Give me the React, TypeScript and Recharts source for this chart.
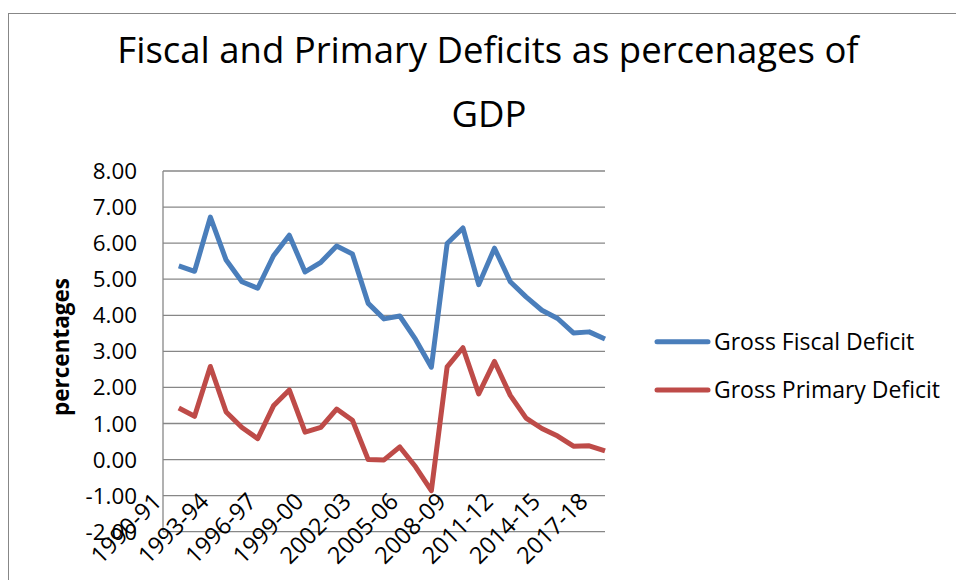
import { ComposedChart, Line, XAxis, YAxis, CartesianGrid } from 'recharts';

const years = [
  '1990-91', '1991-92', '1992-93', '1993-94', '1994-95', '1995-96', '1996-97', '1997-98',
  '1998-99', '1999-00', '2000-01', '2001-02', '2002-03', '2003-04', '2004-05', '2005-06',
  '2006-07', '2007-08', '2008-09', '2009-10', '2010-11', '2011-12', '2012-13', '2013-14',
  '2014-15', '2015-16', '2016-17', '2017-18', '2018-19',
];

const grossFiscalDeficit: (number | null)[] = [
  null, 5.37, 5.22, 6.72, 5.53, 4.93, 4.75, 5.65, 6.22, 5.2, 5.47, 5.92, 5.7, 4.33, 3.9,
  3.98, 3.33, 2.56, 5.99, 6.42, 4.85, 5.86, 4.93, 4.51, 4.14, 3.91, 3.51, 3.54, 3.34,
];

const grossPrimaryDeficit: (number | null)[] = [
  null, 1.43, 1.2, 2.58, 1.32, 0.89, 0.58, 1.49, 1.93, 0.76, 0.89, 1.4, 1.09, 0.0, -0.01,
  0.35, -0.2, -0.86, 2.57, 3.1, 1.82, 2.72, 1.78, 1.15, 0.86, 0.65, 0.37, 0.38, 0.24,
];

const yTicks = [-2, -1, 0, 1, 2, 3, 4, 5, 6, 7, 8];

const titleLines = ['Fiscal and Primary Deficits as percenages of', 'GDP'];
const yLabel = 'percentages';
const series = [
  { key: 'fiscal', name: 'Gross Fiscal Deficit', color: '#4A7EBB' },
  { key: 'primary', name: 'Gross Primary Deficit', color: '#BE4B48' },
];

const FONT = '"Open Sans", "Noto Sans", sans-serif';
const GRID = '#878787';

const data = years.map((year, i) => ({
  year,
  fiscal: grossFiscalDeficit[i],
  primary: grossPrimaryDeficit[i],
}));

function YTick({ y, payload }: any) {
  return (
    <text x={137} y={y} dy="0.36em" textAnchor="end" fontSize={22.4} fontFamily={FONT} fill="#000">
      {Number(payload.value).toFixed(2)}
    </text>
  );
}

function XTick({ x, payload }: any) {
  return (
    <text
      transform={`translate(${x},503) rotate(-45)`}
      textAnchor="end"
      fontSize={23.5}
      fontFamily={FONT}
      fill="#000"
    >
      {payload.value}
    </text>
  );
}

export default function App() {
  return (
    <div style={{ position: 'fixed', left: 0, top: 0, width: 956, height: 580, overflow: 'hidden', background: '#fff' }}>
      <div
        style={{
          position: 'absolute',
          left: 8,
          top: 13,
          width: 1100,
          height: 1000,
          border: `1.5px solid ${GRID}`,
        }}
      />
      <ComposedChart
        width={956}
        height={580}
        data={data}
        margin={{ top: 171, right: 351, bottom: 20, left: 20 }}
        style={{ position: 'absolute', left: 0, top: 0 }}
      >
        <CartesianGrid vertical={false} stroke={GRID} strokeWidth={1.3} />
        <XAxis
          dataKey="year"
          interval={2}
          height={28.3}
          tickLine={false}
          axisLine={false}
          tick={<XTick />}
        />
        <YAxis
          type="number"
          domain={[-2, 8]}
          ticks={yTicks}
          width={143}
          tickLine={false}
          axisLine={{ stroke: GRID, strokeWidth: 1.3 }}
          tick={<YTick />}
        />
        {series.map((s) => (
          <Line
            key={s.key}
            dataKey={s.key}
            name={s.name}
            stroke={s.color}
            strokeWidth={5}
            strokeLinejoin="round"
            dot={false}
            isAnimationActive={false}
          />
        ))}
      </ComposedChart>
      <svg width={956} height={580} style={{ position: 'absolute', left: 0, top: 0, pointerEvents: 'none' }}>
        <text x={488} y={63} textAnchor="middle" fontSize={36.5} fontFamily={FONT} fill="#000">
          {titleLines[0]}
        </text>
        <text x={489} y={127} textAnchor="middle" fontSize={36.5} fontFamily={FONT} fill="#000">
          {titleLines[1]}
        </text>
        <text
          transform="translate(69,347) rotate(-90)"
          textAnchor="middle"
          fontSize={22.5}
          fontWeight="bold"
          fontFamily={FONT}
          fill="#000"
        >
          {yLabel}
        </text>
        {series.map((s, i) => {
          const y = 341.7 + i * 48.3;
          return (
            <g key={s.key}>
              <line x1={657} x2={708} y1={y} y2={y} stroke={s.color} strokeWidth={5} strokeLinecap="round" />
              <text x={714} y={y} dy="0.36em" fontSize={23} fontFamily={FONT} fill="#000">
                {s.name}
              </text>
            </g>
          );
        })}
      </svg>
    </div>
  );
}
